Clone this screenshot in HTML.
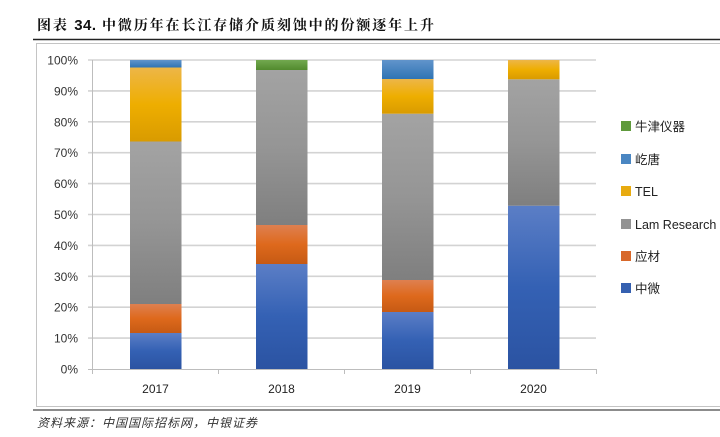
<!DOCTYPE html>
<html><head><meta charset="utf-8"><style>
html,body{margin:0;padding:0;background:#fff;}
svg{display:block;}
</style></head><body>
<svg width="720" height="437" viewBox="0 0 720 437" xmlns="http://www.w3.org/2000/svg">
<defs>
<linearGradient id="gB" x1="0" y1="0" x2="0" y2="1"><stop offset="0" stop-color="#5b7ec6"/><stop offset="0.5" stop-color="#3461b4"/><stop offset="1" stop-color="#2b53a2"/></linearGradient>
<linearGradient id="gO" x1="0" y1="0" x2="0" y2="1"><stop offset="0" stop-color="#de8050"/><stop offset="0.5" stop-color="#de691c"/><stop offset="1" stop-color="#c65a14"/></linearGradient>
<linearGradient id="gG" x1="0" y1="0" x2="0" y2="1"><stop offset="0" stop-color="#a3a3a3"/><stop offset="0.5" stop-color="#959595"/><stop offset="1" stop-color="#7f7f7f"/></linearGradient>
<linearGradient id="gY" x1="0" y1="0" x2="0" y2="1"><stop offset="0" stop-color="#edb648"/><stop offset="0.5" stop-color="#eeae00"/><stop offset="1" stop-color="#d99b00"/></linearGradient>
<linearGradient id="gL" x1="0" y1="0" x2="0" y2="1"><stop offset="0" stop-color="#6194cb"/><stop offset="1" stop-color="#2f74b4"/></linearGradient>
<linearGradient id="gN" x1="0" y1="0" x2="0" y2="1"><stop offset="0" stop-color="#72a84f"/><stop offset="1" stop-color="#528a2e"/></linearGradient>
</defs>
<rect width="720" height="437" fill="#fff"/>
<text x="37" y="30" font-family="'Noto Serif CJK SC','Liberation Serif',serif" font-weight="bold" font-size="14" letter-spacing="1.9" fill="#111">图表 <tspan font-family="'Liberation Sans',sans-serif" font-size="15" letter-spacing="0.5">34.</tspan> 中微历年在长江存储介质刻蚀中的份额逐年上升</text>
<line x1="33" y1="39.5" x2="720" y2="39.5" stroke="#222" stroke-width="1.5"/>
<rect x="36.5" y="43.5" width="700" height="363" fill="none" stroke="#c4c4c4" stroke-width="1"/>
<line x1="33" y1="410" x2="720" y2="410" stroke="#666" stroke-width="1.5"/>
<text x="37" y="427" font-family="'Noto Sans CJK SC',sans-serif" font-style="italic" font-size="12" letter-spacing="1" fill="#333">资料来源：中国国际招标网，中银证券</text>
<g stroke="#d3d3d3" stroke-width="1.6">
<line x1="88" y1="60" x2="596" y2="60"/>
<line x1="88" y1="90.9" x2="596" y2="90.9"/>
<line x1="88" y1="121.8" x2="596" y2="121.8"/>
<line x1="88" y1="152.7" x2="596" y2="152.7"/>
<line x1="88" y1="183.6" x2="596" y2="183.6"/>
<line x1="88" y1="214.5" x2="596" y2="214.5"/>
<line x1="88" y1="245.4" x2="596" y2="245.4"/>
<line x1="88" y1="276.3" x2="596" y2="276.3"/>
<line x1="88" y1="307.2" x2="596" y2="307.2"/>
<line x1="88" y1="338.1" x2="596" y2="338.1"/>
</g>
<g stroke="#bdbdbd" stroke-width="1">
<line x1="92.5" y1="60" x2="92.5" y2="369"/>
<line x1="88" y1="369.5" x2="596" y2="369.5"/>
<line x1="92.5" y1="369" x2="92.5" y2="374"/>
<line x1="218.5" y1="369" x2="218.5" y2="374"/>
<line x1="344.5" y1="369" x2="344.5" y2="374"/>
<line x1="470.5" y1="369" x2="470.5" y2="374"/>
<line x1="596.5" y1="369" x2="596.5" y2="374"/>
</g>
<g font-family="'Liberation Sans',sans-serif" font-size="12" fill="#333" text-anchor="end">
<text x="78" y="64.5">100%</text>
<text x="78" y="95.4">90%</text>
<text x="78" y="126.3">80%</text>
<text x="78" y="157.2">70%</text>
<text x="78" y="188.1">60%</text>
<text x="78" y="219">50%</text>
<text x="78" y="249.9">40%</text>
<text x="78" y="280.8">30%</text>
<text x="78" y="311.7">20%</text>
<text x="78" y="342.6">10%</text>
<text x="78" y="373.5">0%</text>
</g>
<g font-family="'Liberation Sans',sans-serif" font-size="12" fill="#222" text-anchor="middle">
<text x="155.5" y="393">2017</text>
<text x="281.5" y="393">2018</text>
<text x="407.5" y="393">2019</text>
<text x="533.5" y="393">2020</text>
</g>
<!-- 2017 -->
<rect x="130" y="333" width="51.5" height="36" fill="url(#gB)"/>
<rect x="130" y="304" width="51.5" height="29" fill="url(#gO)"/>
<rect x="130" y="141.5" width="51.5" height="162.5" fill="url(#gG)"/>
<rect x="130" y="67.5" width="51.5" height="74" fill="url(#gY)"/>
<rect x="130" y="60" width="51.5" height="7.5" fill="url(#gL)"/>
<!-- 2018 -->
<rect x="256" y="264" width="51.5" height="105" fill="url(#gB)"/>
<rect x="256" y="225" width="51.5" height="39" fill="url(#gO)"/>
<rect x="256" y="70" width="51.5" height="155" fill="url(#gG)"/>
<rect x="256" y="60" width="51.5" height="10" fill="url(#gN)"/>
<!-- 2019 -->
<rect x="382" y="312" width="51.5" height="57" fill="url(#gB)"/>
<rect x="382" y="280" width="51.5" height="32" fill="url(#gO)"/>
<rect x="382" y="113.7" width="51.5" height="166.3" fill="url(#gG)"/>
<rect x="382" y="79" width="51.5" height="34.7" fill="url(#gY)"/>
<rect x="382" y="60" width="51.5" height="19" fill="url(#gL)"/>
<!-- 2020 -->
<rect x="508" y="205.7" width="51.5" height="163.3" fill="url(#gB)"/>
<rect x="508" y="79.3" width="51.5" height="126.4" fill="url(#gG)"/>
<rect x="508" y="60" width="51.5" height="19.3" fill="url(#gY)"/>
<!-- legend -->
<rect x="621" y="121" width="10" height="10" fill="#5f9a3c"/>
<rect x="621" y="154" width="10" height="10" fill="#4a86c2"/>
<rect x="621" y="186" width="10" height="10" fill="#e8ab10"/>
<rect x="621" y="219" width="10" height="10" fill="#939393"/>
<rect x="621" y="251" width="10" height="10" fill="#d8682a"/>
<rect x="621" y="283" width="10" height="10" fill="#3560b0"/>
<g font-family="'Liberation Sans','Noto Sans CJK SC',sans-serif" font-size="12.5" fill="#222">
<text x="635" y="131">牛津仪器</text>
<text x="635" y="164">屹唐</text>
<text x="635" y="196">TEL</text>
<text x="635" y="229">Lam Research</text>
<text x="635" y="261">应材</text>
<text x="635" y="293">中微</text>
</g>
</svg>
</body></html>
